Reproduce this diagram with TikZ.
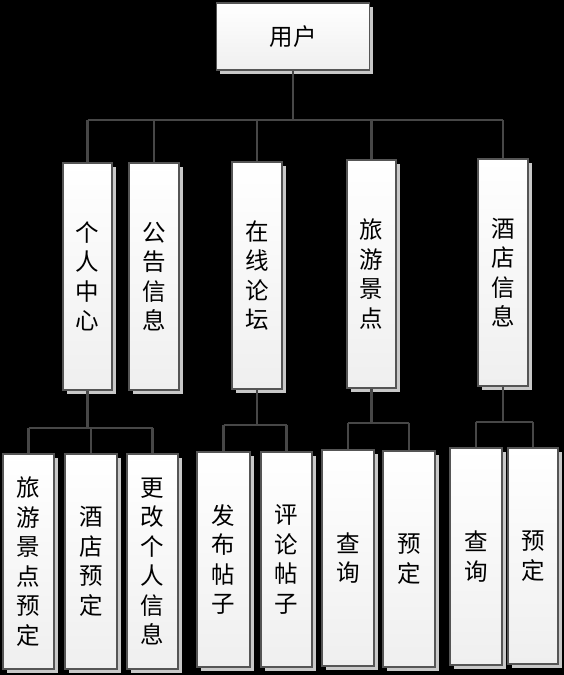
\documentclass[tikz,border=0pt]{standalone}
\usepackage{fontspec}
\newfontfamily\cjk{Noto Sans CJK SC}
\usetikzlibrary{shadows}
\definecolor{linec}{HTML}{474747}
\definecolor{boxline}{HTML}{555555}
\definecolor{shadowc}{HTML}{C8C8C8}
\definecolor{boxbot}{HTML}{EFEFEF}
\tikzset{
  box/.style={rectangle, draw=boxline, line width=1.5pt, inner sep=0pt,
    top color=white, bottom color=boxbot,
    drop shadow={shadow xshift=3.5pt, shadow yshift=-3.5pt, fill=shadowc, opacity=1},
    align=center, font=\cjk\fontsize{23.5}{29.5}\selectfont},
  conn/.style={draw=linec, line width=2.8pt}
}
\begin{document}
\begin{tikzpicture}[x=1pt, y=-1pt]
\fill[black] (0,0) rectangle (564,675);
\useasboundingbox (0,0) rectangle (564,675);
% top
\node[box, minimum width=153pt, minimum height=67pt] (u) at (293,36.5) {用户};
% level 2
\node[box, minimum width=49pt, minimum height=227pt] (a) at (87.5,276.5) {个\\人\\中\\心};
\node[box, minimum width=50pt, minimum height=227pt] (b) at (154,276.5) {公\\告\\信\\息};
\node[box, minimum width=50pt, minimum height=227pt] (c) at (257,275.5) {在\\线\\论\\坛};
\node[box, minimum width=49pt, minimum height=228pt] (d) at (371.5,274) {旅\\游\\景\\点};
\node[box, minimum width=50pt, minimum height=227pt] (e) at (503,272.5) {酒\\店\\信\\息};
% level 3
\node[box, minimum width=51pt, minimum height=215pt] (a1) at (28.5,561.5) {旅\\游\\景\\点\\预\\定};
\node[box, minimum width=52pt, minimum height=215pt] (a2) at (91,561.5) {酒\\店\\预\\定};
\node[box, minimum width=51pt, minimum height=215pt] (a3) at (152.5,561.5) {更\\改\\个\\人\\信\\息};
\node[box, minimum width=53pt, minimum height=215pt] (c1) at (223.5,559.5) {发\\布\\帖\\子};
\node[box, minimum width=51pt, minimum height=215pt] (c2) at (286.5,559.5) {评\\论\\帖\\子};
\node[box, minimum width=52pt, minimum height=216pt] (d1) at (348,558) {查\\询};
\node[box, minimum width=52pt, minimum height=216pt] (d2) at (409,559) {预\\定};
\node[box, minimum width=52pt, minimum height=217pt] (e1) at (476,556.5) {查\\询};
\node[box, minimum width=50pt, minimum height=216pt] (e2) at (533,556) {预\\定};
% bus coordinates
\coordinate (bus0) at (0,120);
\coordinate (busa) at (0,428);
\coordinate (busc) at (0,425);
\coordinate (busd) at (0,423);
\coordinate (buse) at (0,422);
% connectors level 1 -> 2
\draw[conn] (u.south) -- (u.south |- bus0);
\draw[conn] (a.north |- bus0) -- (e.north |- bus0);
\foreach \n in {a,b,c,d,e} \draw[conn] (\n.north) -- (\n.north |- bus0);
% level 2 -> 3
\draw[conn] (a.south) -- (a.south |- busa);
\draw[conn] (a1.north |- busa) -- (a3.north |- busa);
\foreach \n in {a1,a2,a3} \draw[conn] (\n.north) -- (\n.north |- busa);
\draw[conn] (c.south) -- (c.south |- busc);
\draw[conn] (c1.north |- busc) -- (c2.north |- busc);
\foreach \n in {c1,c2} \draw[conn] (\n.north) -- (\n.north |- busc);
\draw[conn] (d.south) -- (d.south |- busd);
\draw[conn] (d1.north |- busd) -- (d2.north |- busd);
\foreach \n in {d1,d2} \draw[conn] (\n.north) -- (\n.north |- busd);
\draw[conn] (e.south) -- (e.south |- buse);
\draw[conn] (e1.north |- buse) -- (e2.north |- buse);
\foreach \n in {e1,e2} \draw[conn] (\n.north) -- (\n.north |- buse);
\end{tikzpicture}
\end{document}
